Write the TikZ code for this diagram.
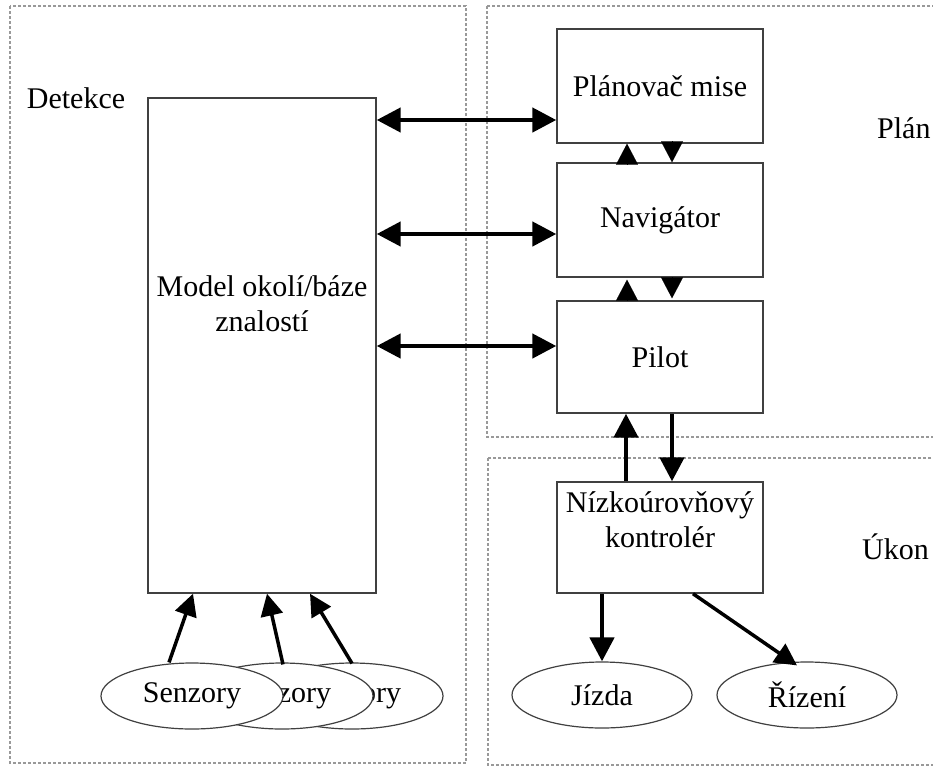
\documentclass[tikz,border=0pt]{standalone}
\usepackage{fontspec}
\setmainfont{Liberation Serif}
\usetikzlibrary{shapes.geometric,arrows.meta,calc}
\tikzset{
  region/.style={draw=black!40,line width=1.1pt,dash pattern=on 3pt off 2pt},
  blk/.style={draw=black!75,line width=1.4pt,fill=white,inner sep=0pt,align=center,font=\fontsize{30}{35}\selectfont},
  ell/.style={ellipse,draw=black!75,line width=1.2pt,fill=white,minimum width=182pt,minimum height=66pt,inner sep=0pt,font=\fontsize{30}{35}\selectfont},
  lbl/.style={inner sep=0pt,font=\fontsize{30}{35}\selectfont},
  arr/.style={line width=4.5pt,-{Triangle[length=24pt,width=24pt]}},
  dbl/.style={line width=4.5pt,{Triangle[length=24pt,width=24pt]}-{Triangle[length=24pt,width=24pt]}},
  thin arr/.style={line width=3.5pt,-{Triangle[length=22pt,width=22pt]}},
  tip/.style={line width=0.1pt,-{Triangle[length=21pt,width=22pt]}}
}
\begin{document}
\begin{tikzpicture}[x=1pt,y=-1pt]
\useasboundingbox (0,0) rectangle (933,771);
\clip (0,0) rectangle (933,771);
\fill[white] (0,0) rectangle (933,771);
% regions
\draw[region] (10,6) rectangle (466,763);
\draw[region] (487,6) rectangle (960,437);
\draw[region] (488,458) rectangle (960,765);
% labels
\node[lbl] (detekce) at (76,98) {Detekce};
\node[lbl,anchor=west] (plan lbl) at (877,128) {Plán};
\node[lbl,anchor=west] (ukon lbl) at (862,547) {Úkon};
% boxes
\node[blk,minimum width=228pt,minimum height=495pt] (model) at (262,345.5) {};
\node[lbl,align=center] (modeltext) at (262,304) {Model okolí/báze\\znalostí};
\node[blk,minimum width=206pt,minimum height=114pt] (plan) at (660,86) {Plánovač mise};
\node[blk,minimum width=206pt,minimum height=114pt] (nav) at (660,220) {Navigátor};
\node[blk,minimum width=206pt,minimum height=112pt] (pilot) at (660,357) {Pilot};
\node[blk,minimum width=206pt,minimum height=111pt] (niz) at (660,537.5) {Nízkoúrovňový\\kontrolér\\\mbox{}};
% ellipses
\node[ell] (sen3) at (352,696) {Senzory};
\node[ell] (sen2) at (282,696) {Senzory};
\node[ell] (sen1) at (192,696) {Senzory};
\node[ell,minimum width=180pt] (jizda) at (602,695) {Jízda};
\node[ell,minimum width=180pt] (rizeni) at (807,695) {Řízení};
% model <-> right boxes
\coordinate (a1) at ([yshift=-34pt]plan.west);
\coordinate (a2) at ([yshift=-14pt]nav.west);
\coordinate (a3) at ([yshift=11pt]pilot.west);
\draw[dbl] (model.east |- a1) -- (a1);
\draw[dbl] (model.east |- a2) -- (a2);
\draw[dbl] (model.east |- a3) -- (a3);
% stacked arrows
\draw[tip] ([xshift=-33pt]nav.north) -- ([xshift=-33pt]plan.south);
\draw[tip] ([xshift=12pt]plan.south) -- ([xshift=12pt]nav.north);
\draw[tip] ([xshift=-33pt]pilot.north) -- ([xshift=-33pt,yshift=-2pt]nav.south);
\draw[tip] ([xshift=12pt]nav.south) -- ([xshift=12pt,yshift=2pt]pilot.north);
% pilot <-> niz
\draw[arr] ([xshift=-34pt]niz.north) -- ([xshift=-34pt]pilot.south);
\draw[arr] ([xshift=12pt]pilot.south) -- ([xshift=12pt]niz.north);
% niz -> outputs
\draw[arr] (niz.south -| jizda.north) -- (jizda.north);
\draw[thin arr] ([xshift=33pt]niz.south) -- ([xshift=-10pt,yshift=-4pt]rizeni.north);
% sensors -> model
\draw[thin arr] ([xshift=-23pt]sen1.north) -- ([xshift=-69pt]model.south);
\draw[thin arr] ([xshift=1pt,yshift=-2pt]sen2.north) -- ([xshift=5pt]model.south);
\draw[thin arr] ([yshift=-1pt]sen3.north) -- ([xshift=48pt]model.south);
\end{tikzpicture}
\end{document}
